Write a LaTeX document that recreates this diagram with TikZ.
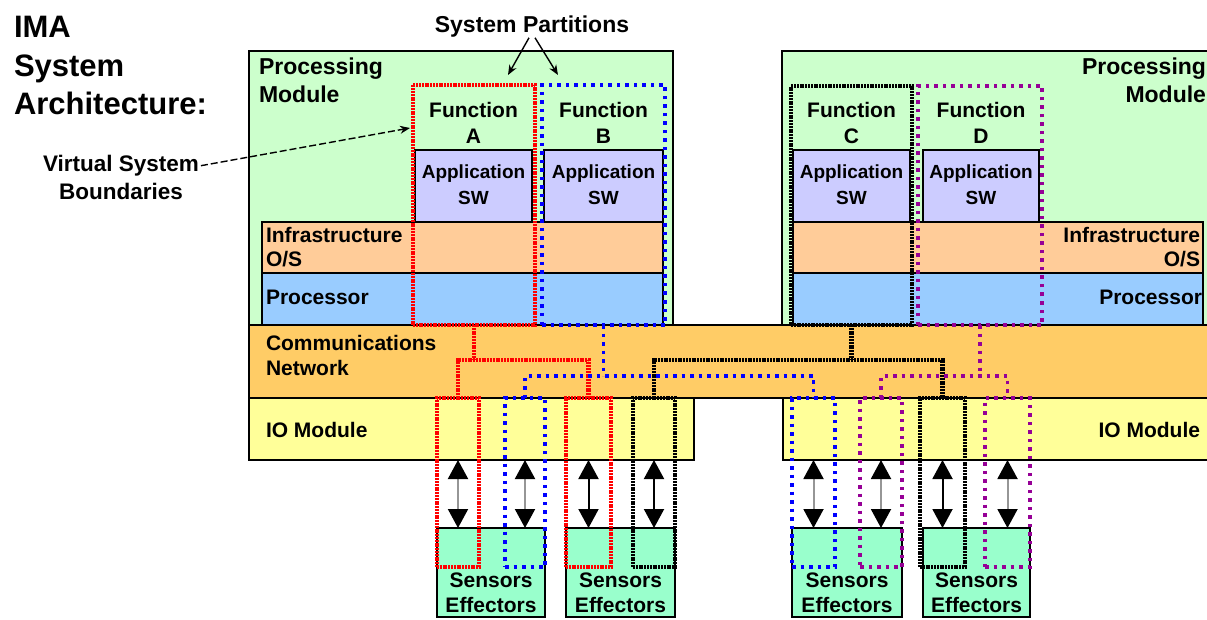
\documentclass[tikz,border=0pt]{standalone}
\usepackage{fontspec}
\setmainfont{Liberation Sans}
\usetikzlibrary{arrows.meta,fit,calc}
\definecolor{pmgreen}{RGB}{204,255,204}
\definecolor{appviolet}{RGB}{204,204,255}
\definecolor{infpeach}{RGB}{255,204,153}
\definecolor{procblue}{RGB}{153,204,255}
\definecolor{commorange}{RGB}{255,204,102}
\definecolor{ioyellow}{RGB}{255,255,153}
\definecolor{sensgreen}{RGB}{153,255,204}
\definecolor{bndpurple}{RGB}{150,0,150}
\definecolor{shaftgray}{RGB}{150,150,150}
\tikzset{
  blk/.style={draw=black, line width=1.3pt, inner sep=0pt, outer sep=0pt},
  bnd/.style={inner sep=0pt, outer sep=0pt},
  lbl/.style={inner sep=0pt, outer sep=0pt, font=\bfseries\fontsize{21}{26}\selectfont},
  bred/.style={draw=red, line width=4.5pt, dash pattern=on 2pt off 0.8pt},
  bblack/.style={draw=black, line width=4.5pt, dash pattern=on 2pt off 0.8pt},
  bblue/.style={draw=blue, line width=3.5pt, dash pattern=on 3.5pt off 5pt},
  bpurple/.style={draw=bndpurple, line width=3.5pt, dash pattern=on 3.5pt off 5pt},
  bidir/.style={line width=2pt, {Triangle[width=20pt,length=19pt,color=black]}-{Triangle[width=20pt,length=19pt,color=black]}},
  pointer/.style={line width=1.4pt, -{Stealth[length=10pt,width=8pt]}},
  dashptr/.style={line width=1.4pt, dash pattern=on 7pt off 3pt, -{Stealth[length=10pt,width=8pt]}},
}
\begin{document}
\begin{tikzpicture}[x=1pt,y=-1pt]
\clip (0,0) rectangle (1207,620);
\fill[white] (0,0) rectangle (1207,620);
% helper y levels
\coordinate (yR) at (0,360);
\coordinate (yB) at (0,376);
\coordinate (yV) at (0,128);
% processing modules
\node[blk, fill=pmgreen, fit={(249,51)(673,325)}] (pmL) {};
\node[blk, fill=pmgreen, fit={(782,51)(1230,325)}] (pmR) {};
% infrastructure and processor bands
\node[blk, fill=infpeach, fit={(262,222)(663,273)}] (infL) {};
\node[blk, fill=procblue, fit={(262,273)(663,325)}] (procL) {};
\node[blk, fill=infpeach, fit={(793,222)(1203,273)}] (infR) {};
\node[blk, fill=procblue, fit={(793,273)(1203,325)}] (procR) {};
% application SW
\node[blk, fill=appviolet, fit={(415,150)(532,222)}] (appA) {};
\node[blk, fill=appviolet, fit={(544,150)(663,222)}] (appB) {};
\node[blk, fill=appviolet, fit={(793,150)(910,222)}] (appC) {};
\node[blk, fill=appviolet, fit={(923,150)(1039,222)}] (appD) {};
% communications network and IO modules
\node[blk, fill=commorange, fit={(249,325)(1230,398)}] (comm) {};
\node[blk, fill=ioyellow, fit={(249,398)(694,460)}] (ioL) {};
\node[blk, fill=ioyellow, fit={(783,398)(1230,460)}] (ioR) {};
% sensors / effectors
\node[blk, fill=sensgreen, fit={(437,528)(545,617)}] (sens1) {};
\node[blk, fill=sensgreen, fit={(566,528)(675,617)}] (sens2) {};
\node[blk, fill=sensgreen, fit={(792,528)(902,617)}] (sens3) {};
\node[blk, fill=sensgreen, fit={(923,528)(1030,617)}] (sens4) {};
% virtual system boundaries
\node[bnd, bred, fit={(413,85)(535,325)}] (bA) {};
\node[bnd, bblue, fit={(542,85)(665,325)}] (bB) {};
\node[bnd, bblack, fit={(791,86)(912,325)}] (bC) {};
\node[bnd, bpurple, fit={(918,86)(1042,325)}] (bD) {};
\node[bnd, bred, fit={(437,398)(479,567)}] (ioA1) {};
\node[bnd, bred, fit={(566,398)(611,567)}] (ioA2) {};
\node[bnd, bblue, fit={(505,398)(545,567)}] (ioB1) {};
\node[bnd, bblue, fit={(792,398)(835,567)}] (ioB2) {};
\node[bnd, bblack, fit={(633,398)(675,567)}] (ioC1) {};
\node[bnd, bblack, fit={(920,398)(965,567)}] (ioC2) {};
\node[bnd, bpurple, fit={(860,398)(902,567)}] (ioD1) {};
\node[bnd, bpurple, fit={(985,398)(1030,567)}] (ioD2) {};
% network links
\draw[bred] (bA.south) -- (bA.south |- yR);
\draw[bred] (ioA1.north) |- (ioA2.north |- yR) -- (ioA2.north);
\draw[bblack] (bC.south) -- (bC.south |- yR);
\draw[bblack] (ioC1.north) |- (ioC2.north |- yR) -- (ioC2.north);
\draw[bblue] (bB.south) -- (bB.south |- yB);
\draw[bblue] (ioB1.north) |- (ioB2.north |- yB) -- (ioB2.north);
\draw[bpurple] (bD.south) -- (bD.south |- yB);
\draw[bpurple] (ioD1.north) |- (ioD2.north |- yB) -- (ioD2.north);
% IO arrows
\draw[bidir, shaftgray] (ioL.south -| ioA1.center) -- (sens1.north -| ioA1.center);
\draw[bidir, shaftgray] (ioL.south -| ioB1.center) -- (sens1.north -| ioB1.center);
\draw[bidir, black] (ioL.south -| ioA2.center) -- (sens2.north -| ioA2.center);
\draw[bidir, black] (ioL.south -| ioC1.center) -- (sens2.north -| ioC1.center);
\draw[bidir, shaftgray] (ioR.south -| ioB2.center) -- (sens3.north -| ioB2.center);
\draw[bidir, shaftgray] (ioR.south -| ioD1.center) -- (sens3.north -| ioD1.center);
\draw[bidir, black] (ioR.south -| ioC2.center) -- (sens4.north -| ioC2.center);
\draw[bidir, shaftgray] (ioR.south -| ioD2.center) -- (sens4.north -| ioD2.center);
% texts (base anchor = baseline of last line)
\node[lbl, font=\bfseries\fontsize{31}{38.5}\selectfont, anchor=base west, align=left] (title) at (14,115) {IMA\\System\\Architecture:};
\node[lbl, font=\bfseries\fontsize{23}{28}\selectfont, anchor=base] (sp) at (532,33) {System Partitions};
\node[lbl, font=\bfseries\fontsize{22.5}{27.5}\selectfont, anchor=base, align=center] (vsb) at (121,199.5) {Virtual System\\Boundaries};
\node[lbl, font=\bfseries\fontsize{23}{28}\selectfont, anchor=base west, align=left] (pmLt) at (259,103) {Processing\\Module};
\node[lbl, font=\bfseries\fontsize{23}{28}\selectfont, anchor=base east, align=right] (pmRt) at (1206,103) {Processing\\Module};
\node[lbl, anchor=base, align=center] (fA) at (473.5,144) {Function\\A};
\node[lbl, anchor=base, align=center] (fB) at (603.5,144) {Function\\B};
\node[lbl, anchor=base, align=center] (fC) at (851.5,144) {Function\\C};
\node[lbl, anchor=base, align=center] (fD) at (981,144) {Function\\D};
\node[lbl, font=\bfseries\fontsize{19}{26}\selectfont, anchor=base, align=center] (aA) at (473.5,205) {Application\\SW};
\node[lbl, font=\bfseries\fontsize{19}{26}\selectfont, anchor=base, align=center] (aB) at (603.5,205) {Application\\SW};
\node[lbl, font=\bfseries\fontsize{19}{26}\selectfont, anchor=base, align=center] (aC) at (851.5,205) {Application\\SW};
\node[lbl, font=\bfseries\fontsize{19}{26}\selectfont, anchor=base, align=center] (aD) at (981,205) {Application\\SW};
\node[lbl, font=\bfseries\fontsize{21}{24}\selectfont, anchor=base west, align=left] (infLt) at (266,267) {Infrastructure\\O/S};
\node[lbl, font=\bfseries\fontsize{21}{24}\selectfont, anchor=base east, align=right] (infRt) at (1200,267) {Infrastructure\\O/S};
\node[lbl, anchor=base west] (procLt) at (266,305) {Processor};
\node[lbl, anchor=base east] (procRt) at (1202,305) {Processor};
\node[lbl, font=\bfseries\fontsize{21}{25}\selectfont, anchor=base west, align=left] (commt) at (266,375) {Communications\\Network};
\node[lbl, anchor=base west] (ioLt) at (266,437) {IO Module};
\node[lbl, anchor=base east] (ioRt) at (1200,437) {IO Module};
\node[lbl, font=\bfseries\fontsize{21}{25}\selectfont, anchor=base, align=center] (s1t) at (491,612) {Sensors\\Effectors};
\node[lbl, font=\bfseries\fontsize{21}{25}\selectfont, anchor=base, align=center] (s2t) at (620.5,612) {Sensors\\Effectors};
\node[lbl, font=\bfseries\fontsize{21}{25}\selectfont, anchor=base, align=center] (s3t) at (847,612) {Sensors\\Effectors};
\node[lbl, font=\bfseries\fontsize{21}{25}\selectfont, anchor=base, align=center] (s4t) at (976.5,612) {Sensors\\Effectors};
% pointer arrows
\draw[pointer] ([xshift=-3pt]sp.south) -- ([shift={(-27,-10)}]bA.north east);
\draw[pointer] ([xshift=3pt]sp.south) -- ([shift={(16,-10)}]bB.north west);
\draw[dashptr] ([shift={(2,10)}]vsb.north east) -- ([xshift=-3pt]bA.west |- yV);
\end{tikzpicture}
\end{document}
